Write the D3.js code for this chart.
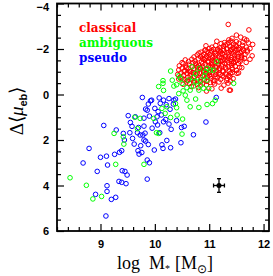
<!DOCTYPE html>
<html lang="en">
<head>
<meta charset="utf-8">
<title>Bulge surface brightness offset vs stellar mass</title>
<script src="https://d3js.org/d3.v7.min.js"></script>
<style>
  body { margin: 0; background: #fff; }
</style>
</head>
<body>
<script>
// classical bulges (red)
var classical = [
  [11.35,-3.08],[11.73,-2.84],[11.50,-2.61],[11.42,-2.47],[11.58,-2.52],[11.65,-2.44],[11.36,-2.40],[11.69,-2.39],
  [11.14,-2.34],[11.50,-2.32],[11.80,-2.20],[11.28,-2.28],[11.45,-2.22],[11.55,-2.25],[11.62,-2.30],[11.72,-2.27],
  [11.33,-2.21],[11.40,-2.35],[10.94,-2.14],[11.22,-2.24],
  [11.05,-2.08],[11.12,-2.15],[11.20,-2.05],[11.26,-2.12],[11.32,-2.02],[11.38,-2.10],[11.44,-2.05],[11.50,-2.13],
  [11.56,-2.04],[11.61,-2.16],[11.68,-2.08],[11.75,-2.02],[11.48,-2.18],[11.00,-2.02],[11.16,-2.00],[11.30,-2.17],
  [10.85,-1.86],[10.92,-1.95],[10.98,-1.84],[11.04,-1.92],[11.10,-1.85],[11.15,-1.96],[11.21,-1.88],[11.27,-1.94],
  [11.33,-1.83],[11.39,-1.92],[11.45,-1.86],[11.51,-1.97],[11.57,-1.84],[11.63,-1.93],[11.70,-1.87],[11.60,-1.88],
  [11.24,-1.81],[11.42,-1.98],[11.08,-1.98],[11.36,-1.86],
  [10.72,-1.65],[10.78,-1.74],[10.84,-1.66],[10.90,-1.76],[10.95,-1.68],[11.01,-1.75],[11.06,-1.63],[11.12,-1.72],
  [11.18,-1.65],[11.24,-1.77],[11.30,-1.68],[11.35,-1.74],[11.41,-1.63],[11.47,-1.72],[11.53,-1.66],[11.66,-1.76],
  [11.59,-1.62],[11.20,-1.78],[10.98,-1.62],[11.44,-1.78],[11.79,-1.70],[11.75,-1.55],
  [10.62,-1.45],[10.68,-1.55],[10.74,-1.47],[10.80,-1.57],[10.86,-1.44],[10.91,-1.53],[10.97,-1.46],[11.03,-1.56],
  [11.09,-1.42],[11.15,-1.52],[11.21,-1.45],[11.27,-1.57],[11.33,-1.48],[11.39,-1.54],[11.45,-1.43],[11.51,-1.51],
  [11.57,-1.46],[11.68,-1.41],[11.60,-1.56],[11.06,-1.50],[10.88,-1.58],[11.24,-1.50],
  [10.45,-1.26],[10.52,-1.35],[10.57,-1.25],[10.63,-1.33],[10.69,-1.22],[10.75,-1.36],[10.81,-1.28],[10.87,-1.21],
  [10.93,-1.34],[10.99,-1.26],[11.05,-1.38],[11.11,-1.23],[11.17,-1.32],[11.23,-1.25],[11.29,-1.37],[11.35,-1.22],
  [11.41,-1.30],[11.48,-1.24],[11.54,-1.36],[11.45,-1.38],[10.78,-1.22],[11.02,-1.20],
  [10.44,-1.08],[10.50,-1.16],[10.55,-1.05],[10.61,-1.14],[10.66,-1.02],[10.72,-1.12],[10.78,-1.04],[10.84,-1.15],
  [10.90,-1.06],[10.96,-1.13],[11.02,-1.00],[11.08,-1.11],[11.13,-1.03],[11.19,-1.16],[11.25,-1.05],[11.31,-1.13],
  [11.37,-1.02],[11.43,-1.10],[11.60,-1.18],[11.54,-0.95],[10.58,-1.18],
  [10.42,-0.88],[10.48,-0.95],[10.53,-0.84],[10.59,-0.93],[10.65,-0.82],[10.70,-0.96],[10.76,-0.86],[10.82,-0.94],
  [10.88,-0.83],[10.94,-0.92],[11.00,-0.85],[11.06,-0.97],[11.12,-0.88],[11.18,-0.95],[11.24,-0.82],[11.30,-0.90],
  [11.36,-0.84],[11.42,-0.96],[11.51,-0.93],[11.39,-0.93],
  [10.50,-0.72],[10.55,-0.65],[10.61,-0.76],[10.67,-0.68],[10.73,-0.78],[10.79,-0.66],[10.85,-0.74],[10.91,-0.64],
  [10.97,-0.77],[11.03,-0.70],[11.09,-0.62],[11.15,-0.75],[11.21,-0.67],[11.27,-0.78],[11.33,-0.70],[11.39,-0.59],
  [10.44,-0.68],
  [10.52,-0.45],[10.58,-0.55],[10.64,-0.48],[10.72,-0.52],[10.78,-0.44],[10.88,-0.50],[10.95,-0.42],[11.02,-0.53],
  [11.10,-0.46],[11.18,-0.55],[11.27,-0.41],[11.35,-0.50],[10.67,-0.35],
  [10.80,-0.30],[11.05,-0.25],[11.22,-0.28],[11.37,-0.19],[10.95,-0.15],[11.39,-0.19],
  [10.81,-1.82],[10.87,-1.70],[10.93,-1.60],[10.99,-1.42],[11.05,-1.30],[11.11,-1.58],[11.17,-1.44],[11.23,-1.62],
  [11.29,-1.52],[11.35,-1.60],[11.41,-1.44],[11.47,-1.58],[11.53,-1.78],[11.59,-1.70],[11.65,-1.60],[10.70,-1.40],
  [10.76,-1.30],[10.82,-1.18],[10.88,-1.36],[10.94,-1.10],[11.00,-0.96],[11.06,-1.22],[11.12,-0.78],[11.18,-1.08],
  [11.24,-1.34],[11.30,-1.20],[11.36,-1.40],[11.42,-1.18],[11.48,-1.46],[10.64,-1.00],[10.60,-0.62],[10.66,-0.90],
  [10.72,-0.60],[10.78,-0.94],[10.84,-0.56],[10.90,-0.98],[10.96,-0.58],[11.02,-0.78],[11.08,-0.55],[11.14,-1.20],
  [11.20,-0.88],[11.26,-1.00],[11.32,-0.62],[11.38,-0.78],[11.44,-0.70],[11.50,-1.06],[11.56,-1.20],[11.26,-2.00],
  [11.18,-1.92],[11.40,-1.98],[11.48,-1.92],[11.54,-1.98],[11.62,-2.00],[11.70,-1.95],[11.36,-2.28],[11.12,-1.80],
  [11.03,-1.83],[10.96,-1.90],[10.56,-1.52],[10.50,-1.40],[10.46,-0.75],[10.54,-1.00],[10.93,-1.95]
];

// ambiguous (green)
var ambiguous = [
  [8.44,3.66],[8.74,3.99],[8.86,4.59],[9.02,4.48],[9.28,3.07],[9.25,1.71],[9.43,2.18],[9.42,1.86],
  [9.63,1.00],[9.68,1.50],[9.80,3.07],[9.98,1.05],[10.03,1.68],[10.07,1.71],[10.50,1.74],[10.51,1.08],
  [9.73,1.05],[10.19,0.83],[10.22,0.54],[10.13,0.61],[10.29,1.01],[10.41,0.90],[10.40,0.58],
  [10.07,-0.35],[10.15,-0.61],[10.15,-0.49],[10.16,-0.18],[10.29,-1.03],[10.32,-0.63],[10.35,-0.37],[10.40,-0.43],
  [10.50,-0.49],[10.52,-0.16],[10.59,-0.30],[10.65,-0.19],[10.81,-0.19],[10.90,-0.27],[10.99,-0.27],[10.84,-0.63],
  [10.91,-0.81],[10.96,-0.63],[11.02,-1.07],[11.08,-1.07],[11.14,-1.44],[10.82,-1.15],[10.93,-1.00],[10.71,-0.75],
  [10.76,-0.56],[10.59,0.25],[10.75,0.20],[10.65,0.54],[10.81,0.57],[10.96,0.44],[11.06,0.40],[11.11,0.25],
  [11.45,-0.49],[10.44,-0.04],[10.56,0.03],[10.47,-0.71],[10.62,-0.63],[10.71,-0.37],[10.84,-0.41],[10.38,0.40],
  [10.68,-1.22],[10.75,-0.93],[10.44,-0.82],[10.96,-1.15]
];

// pseudo bulges (blue)
var pseudo = [
  [8.68,3.01],[8.79,2.37],[8.94,3.38],[9.00,2.76],[9.11,2.71],[9.13,3.10],[8.91,4.39],[9.12,4.01],
  [9.12,4.26],[9.20,4.61],[9.28,4.52],[9.10,5.34],[9.06,1.36],[9.26,2.63],[9.29,1.56],[9.34,3.82],
  [9.39,3.86],[9.47,3.92],[9.40,3.35],[9.45,3.38],[9.49,3.54],[9.35,2.54],[9.39,2.47],[9.51,0.93],
  [9.55,1.23],[9.42,1.71],[9.44,2.00],[9.54,1.68],[9.59,1.93],[9.62,2.18],[9.68,1.68],[9.69,2.47],
  [9.71,2.62],[9.74,2.25],[9.77,0.13],[9.80,1.04],[9.80,1.39],[9.78,1.78],[9.80,2.00],[9.83,2.05],
  [9.86,2.88],[9.90,3.00],[9.86,3.72],[9.94,0.25],[9.86,0.69],[9.88,0.42],[9.99,2.44],[10.01,1.20],
  [10.05,1.34],[10.09,1.68],[10.13,2.21],[10.15,2.37],[10.16,0.25],[10.26,0.18],[10.26,1.30],[10.30,1.53],
  [10.29,2.34],[10.35,0.25],[10.34,0.42],[10.38,0.20],[10.49,1.45],[10.48,2.12],[10.71,1.77],[10.94,1.21],
  [11.13,0.13],[9.92,0.28],[9.83,0.64],[10.00,0.61],[10.10,0.39],[10.21,0.45],[9.64,0.98],[10.04,0.98],
  [10.12,0.90],[10.16,1.20],[10.20,1.10],[10.54,1.40],[9.73,1.78],[9.82,1.70],[9.70,1.45],[9.58,1.40],
  [9.95,1.48],[9.90,0.95],[10.06,0.75],[9.76,2.55],[9.88,2.20],[10.22,2.02],[10.40,1.15],[10.08,0.15],
  [10.28,0.65]
];

// typical error bar
var errPoint = [11.18, 4.0];
var errSize = [0.1, 0.3];

var legend = [["classical", "#ff0000"], ["ambiguous", "#00ff00"], ["pseudo", "#0000ff"]];

var xTicks = [9, 10, 11, 12];
var yTicks = [-4, -2, 0, 2, 4, 6];
var xMinor = d3.range(8.2, 12.11, 0.2).filter(function (v) { return Math.abs(v - Math.round(v)) > 0.01; });
var yMinor = d3.range(-4, 6.01, 0.5).filter(function (v) { return Math.abs(v / 2 - Math.round(v / 2)) > 0.01; });

var W = 273, H = 276;
var x0 = 57, x1 = 269, y0 = 3.5, y1 = 231;

var svg = d3.select("body").append("svg")
    .attr("width", W)
    .attr("height", H);

var xScale = d3.scaleLinear().domain([8.2, 12.1]).range([x0, x1]);
var yScale = d3.scaleLinear().domain([-4, 6]).range([y0, y1]);

function ticks(axis, values, size, tr) {
  var g = svg.append("g")
      .attr("transform", tr)
      .call(axis.tickValues(values).tickSize(size).tickSizeOuter(0).tickFormat(""));
  g.select(".domain").remove();
  g.selectAll("line").attr("stroke", "#000").attr("stroke-width", 1.2);
  return g;
}

// ticks on all four sides, pointing in
ticks(d3.axisBottom(xScale), xMinor, -4, "translate(0," + y1 + ")");
ticks(d3.axisTop(xScale), xMinor, -4, "translate(0," + y0 + ")");
ticks(d3.axisLeft(yScale), yMinor, -4, "translate(" + x0 + ",0)");
ticks(d3.axisRight(yScale), yMinor, -4, "translate(" + x1 + ",0)");
ticks(d3.axisTop(xScale), xTicks, -7, "translate(0," + y0 + ")");
ticks(d3.axisRight(yScale), yTicks, -7, "translate(" + x1 + ",0)");

// labelled axes
var xAxis = svg.append("g")
    .attr("transform", "translate(0," + y1 + ")")
    .call(d3.axisBottom(xScale).tickValues(xTicks).tickFormat(d3.format("d"))
      .tickSize(-7).tickSizeOuter(0).tickPadding(9));
var yAxis = svg.append("g")
    .attr("transform", "translate(" + x0 + ",0)")
    .call(d3.axisLeft(yScale).tickValues(yTicks).tickFormat(d3.format("d"))
      .tickSize(-7).tickSizeOuter(0).tickPadding(8));
[xAxis, yAxis].forEach(function (g) {
  g.select(".domain").remove();
  g.selectAll("line").attr("stroke", "#000").attr("stroke-width", 1.2);
  g.selectAll("text")
    .attr("fill", "#000")
    .style("font-family", "'Liberation Sans', Arial, sans-serif")
    .style("font-weight", "bold")
    .style("font-size", "11px");
});
// top label sits a little below its tick, as in the original
yAxis.selectAll(".tick text").filter(function (d) { return d === -4; }).attr("dy", "0.6em");

// points
function pts(data, color) {
  svg.append("g").selectAll("circle")
    .data(data)
    .enter()
    .append("circle")
    .attr("cx", function (d) { return xScale(d[0]); })
    .attr("cy", function (d) { return yScale(d[1]); })
    .attr("r", 2.3)
    .attr("fill", "none")
    .attr("stroke", color)
    .attr("stroke-width", 1);
}
pts(classical, "#ff0000");
pts(pseudo, "#0000ff");
pts(ambiguous, "#00ff00");

// error bar
var eb = svg.append("g").attr("stroke", "#000").attr("stroke-width", 1.3);
var ex = xScale(errPoint[0]), ey = yScale(errPoint[1]);
var exl = xScale(errPoint[0] - errSize[0]), exr = xScale(errPoint[0] + errSize[0]);
var eyt = yScale(errPoint[1] - errSize[1]), eyb = yScale(errPoint[1] + errSize[1]);
eb.append("line").attr("x1", exl).attr("x2", exr).attr("y1", ey).attr("y2", ey);
eb.append("line").attr("x1", ex).attr("x2", ex).attr("y1", eyt).attr("y2", eyb);
eb.append("line").attr("x1", exl).attr("x2", exl).attr("y1", ey - 2).attr("y2", ey + 2);
eb.append("line").attr("x1", exr).attr("x2", exr).attr("y1", ey - 2).attr("y2", ey + 2);
eb.append("line").attr("x1", ex - 2).attr("x2", ex + 2).attr("y1", eyt).attr("y2", eyt);
eb.append("line").attr("x1", ex - 2).attr("x2", ex + 2).attr("y1", eyb).attr("y2", eyb);
svg.append("circle").attr("cx", ex).attr("cy", ey).attr("r", 2.5).attr("fill", "#000");

// frame
svg.append("rect")
    .attr("x", x0).attr("y", y0)
    .attr("width", x1 - x0).attr("height", y1 - y0)
    .attr("fill", "none")
    .attr("stroke", "#000")
    .attr("stroke-width", 1.8);

// legend
svg.append("g").selectAll("text")
    .data(legend)
    .enter()
    .append("text")
    .attr("x", 79)
    .attr("y", function (d, i) { return 31.5 + i * 15.2; })
    .attr("fill", function (d) { return d[1]; })
    .style("font-family", "'DejaVu Serif', serif")
    .style("font-weight", "bold")
    .style("font-size", "12px")
    .text(function (d) { return d[0]; });

// x title
var xt = svg.append("text")
    .attr("x", 165)
    .attr("y", 269)
    .attr("text-anchor", "middle")
    .style("font-family", "'Liberation Serif', 'Times New Roman', serif")
    .style("font-size", "18px");
xt.append("tspan").text("log");
xt.append("tspan").attr("dx", 9).text("M");
xt.append("tspan").attr("dy", 3).style("font-size", "10px").text("*");
xt.append("tspan").attr("dy", -3).attr("dx", 5).text("[M");
xt.append("tspan").attr("dy", 4).style("font-size", "12px").text("\u2299");
xt.append("tspan").attr("dy", -4).text("]");

// y title
var yt = svg.append("text")
    .attr("transform", "translate(23,111) rotate(-90)")
    .attr("text-anchor", "middle")
    .style("font-family", "'Liberation Serif', 'Times New Roman', serif")
    .style("font-size", "19px");
yt.append("tspan").text("\u0394\u27E8");
yt.append("tspan").style("font-style", "italic").text("\u03BC");
yt.append("tspan").attr("dy", 4).style("font-size", "11px").style("font-weight", "bold")
  .style("font-family", "'Liberation Sans', Arial, sans-serif").text("eb");
yt.append("tspan").attr("dy", -4).text("\u27E9");
</script>
</body>
</html>
